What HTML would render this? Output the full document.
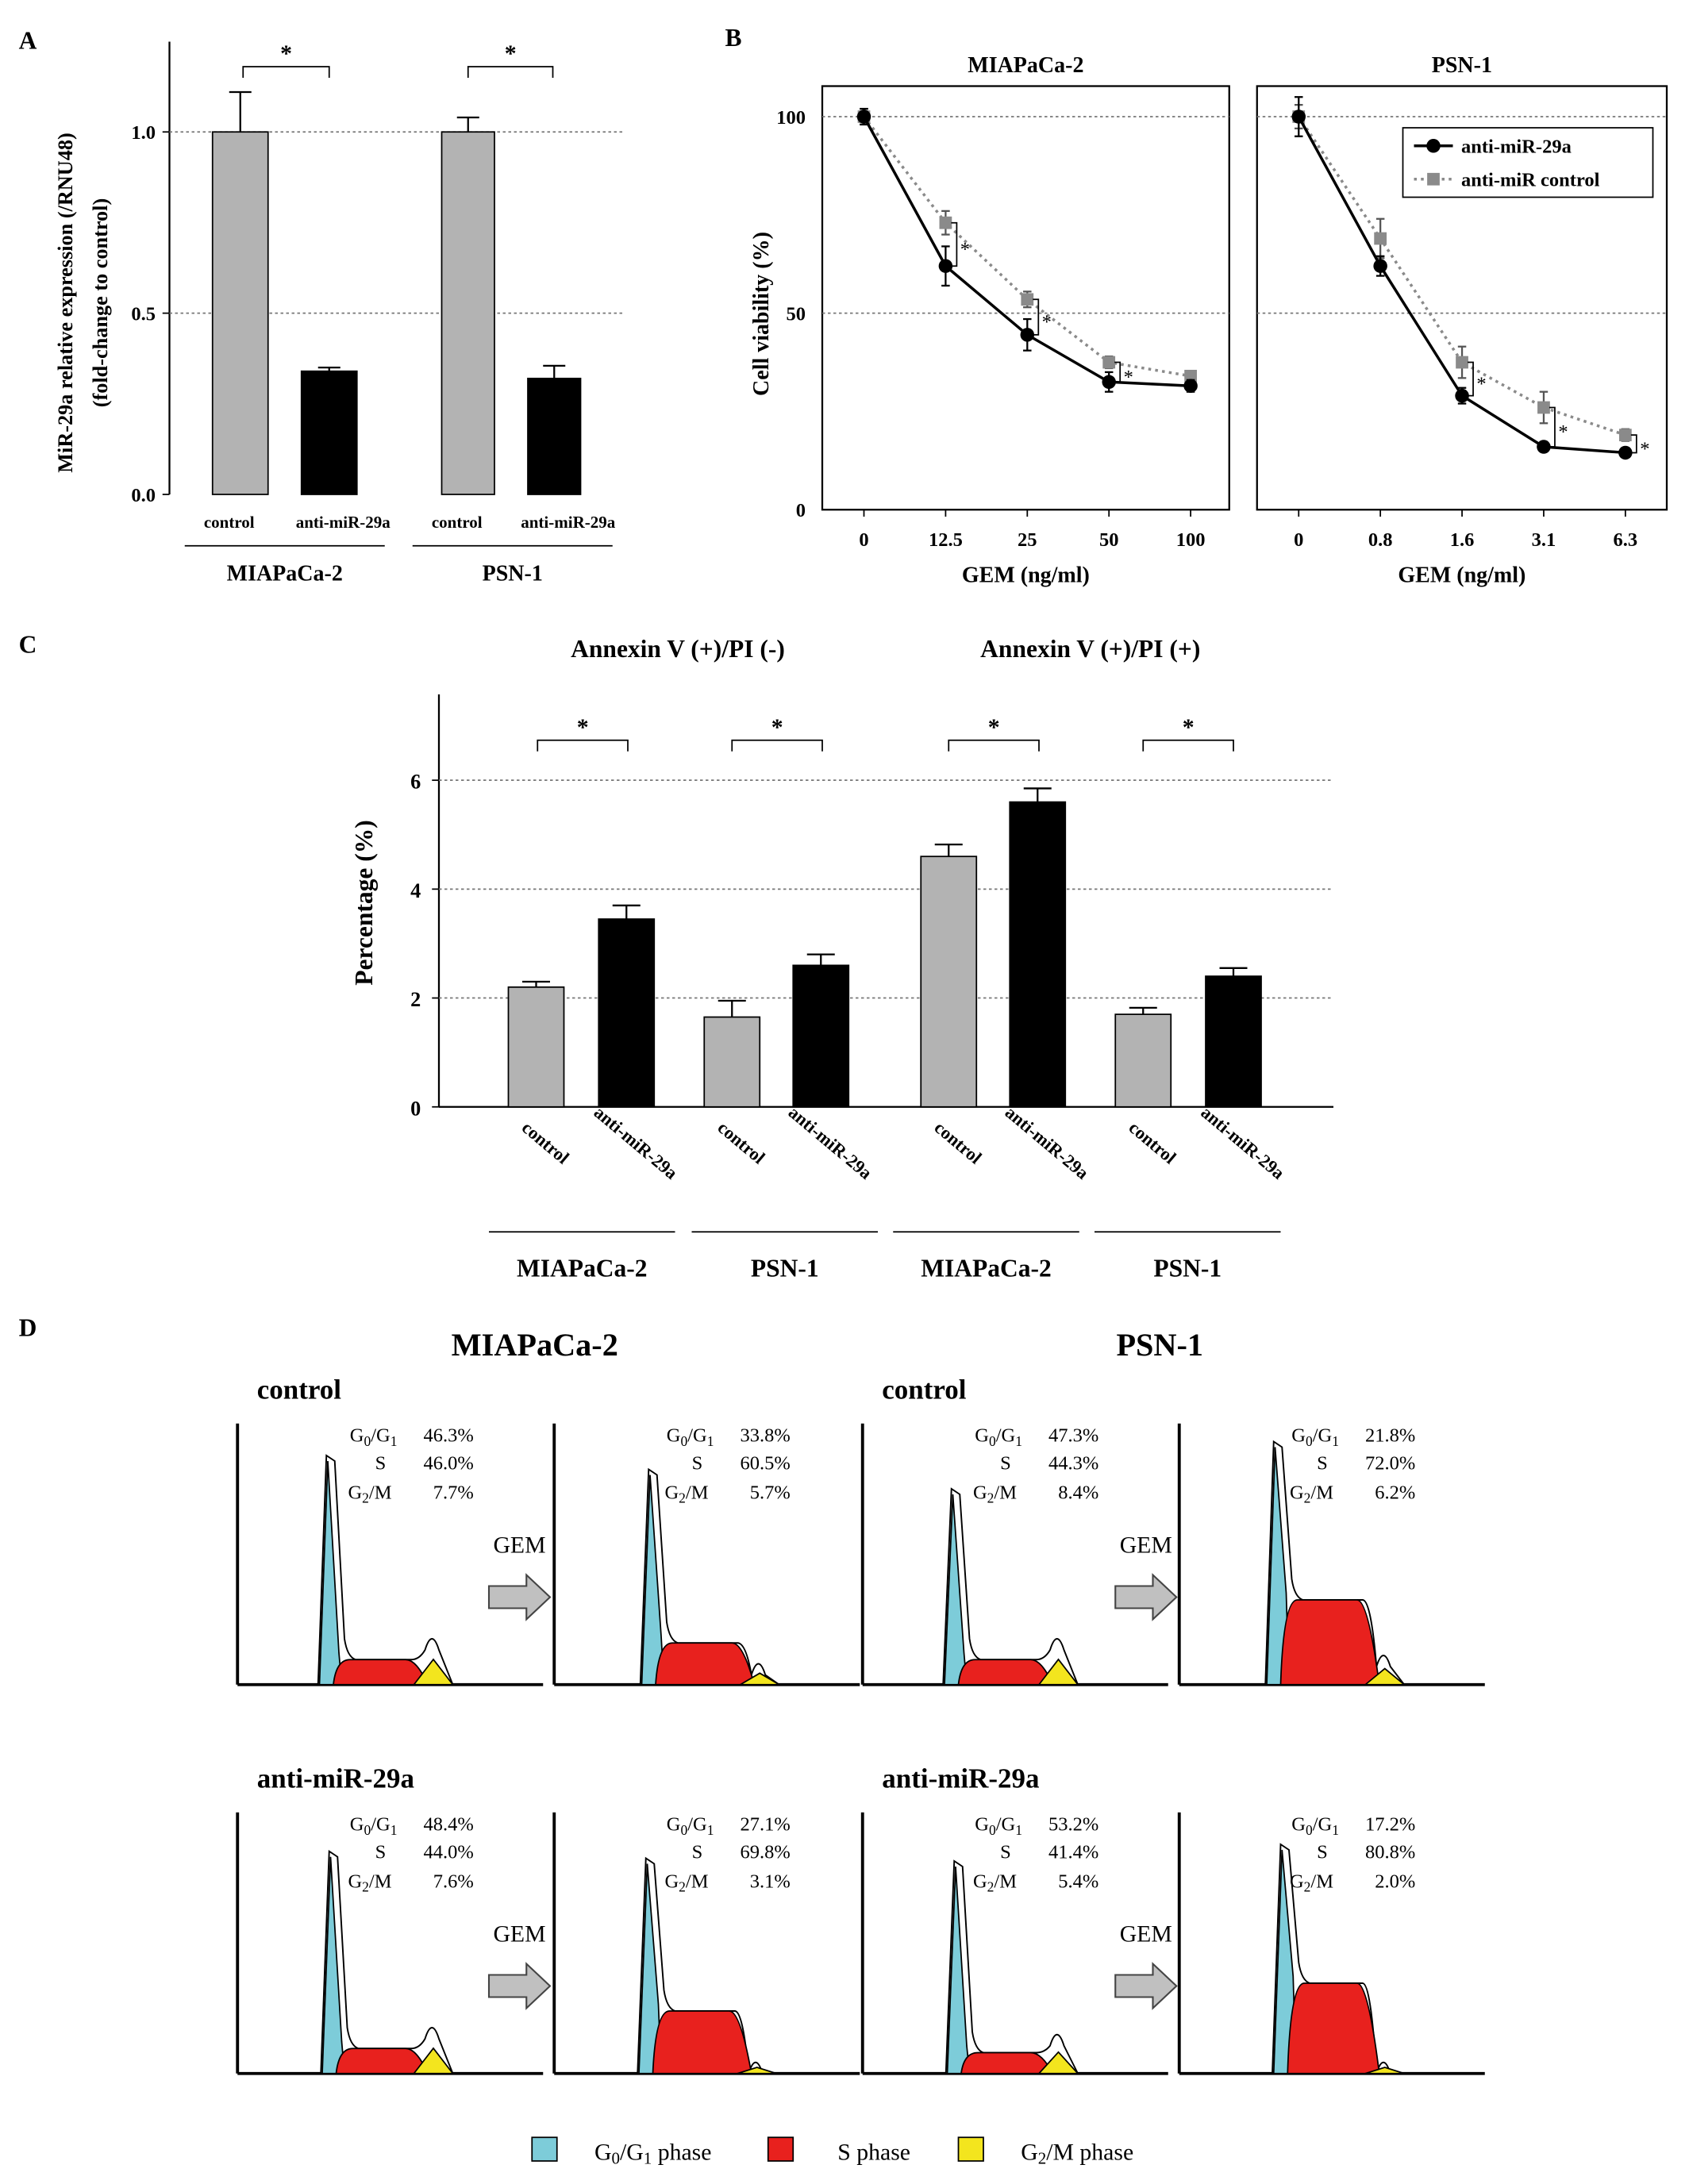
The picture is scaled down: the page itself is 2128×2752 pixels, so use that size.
<!DOCTYPE html>
<html><head><meta charset="utf-8">
<style>
html,body{margin:0;padding:0;background:#fff;}
svg{display:block;font-family:"Liberation Serif",serif;}
.b{font-weight:bold;}
</style></head>
<body>
<svg id="fig" width="2128" height="2752" viewBox="0 0 1216 1572.57" xmlns="http://www.w3.org/2000/svg">
<rect width="1216" height="1573" fill="#fff"/>
<g id="A"></g>
<g id="B"></g>
<g id="C"></g>
<g id="D"></g>
</svg>
<script>
// ---------- Panel A data ----------
const aCategories = ["control","anti-miR-29a","control","anti-miR-29a"];
const aValues = [1.0, 0.34, 1.0, 0.32];
const aErrors = [0.11, 0.01, 0.04, 0.035];
const aTicks = [0.0, 0.5, 1.0];
const aGroups = ["MIAPaCa-2","PSN-1"];
// ---------- Panel B data ----------
const bMiaX = ["0","12.5","25","50","100"];
const bMiaAnti = [100, 62, 44.5, 32.5, 31.5];
const bMiaAntiErr = [2, 5, 4, 2.5, 1.5];
const bMiaCtrl = [100, 73, 53.5, 37.5, 34];
const bMiaCtrlErr = [2, 3, 2, 1.5, 1];
const bPsnX = ["0","0.8","1.6","3.1","6.3"];
const bPsnAnti = [100, 62, 29, 16, 14.5];
const bPsnAntiErr = [5, 2.5, 2, 1, 1];
const bPsnCtrl = [100, 69, 37.5, 26, 19];
const bPsnCtrlErr = [3, 5, 4, 4, 1.5];
const bTicks = [0, 50, 100];
// ---------- Panel C data ----------
const cCategories = ["control","anti-miR-29a","control","anti-miR-29a","control","anti-miR-29a","control","anti-miR-29a"];
const cValues = [2.2, 3.45, 1.65, 2.6, 4.6, 5.6, 1.7, 2.4];
const cErrors = [0.1, 0.25, 0.3, 0.2, 0.22, 0.25, 0.12, 0.15];
const cTicks = [0, 2, 4, 6];
const cGroups = ["MIAPaCa-2","PSN-1","MIAPaCa-2","PSN-1"];
// ---------- Panel D data ----------
const dG1 = [46.3, 33.8, 47.3, 21.8, 48.4, 27.1, 53.2, 17.2];
const dS = [46.0, 60.5, 44.3, 72.0, 44.0, 69.8, 41.4, 80.8];
const dG2 = [7.7, 5.7, 8.4, 6.2, 7.6, 3.1, 5.4, 2.0];

const NS="http://www.w3.org/2000/svg";
function el(parent, tag, attrs, text){
  const e=document.createElementNS(NS,tag);
  for(const k in attrs) e.setAttribute(k,attrs[k]);
  if(text!==undefined) e.textContent=text;
  parent.appendChild(e); return e;
}
function txt(p,x,y,s,size,opts){
  opts=opts||{};
  const t=el(p,'text',{x:x,y:y,'font-size':size,'text-anchor':opts.anchor||'middle','font-weight':opts.bold===false?'normal':'bold',fill:'#000'},s);
  if(opts.rot) t.setAttribute('transform','rotate('+opts.rot+' '+x+' '+y+')');
  
  
  return t;
}
function line(p,x1,y1,x2,y2,w,extra){
  const l=el(p,'line',Object.assign({x1:x1,y1:y1,x2:x2,y2:y2,stroke:'#000','stroke-width':w||1},extra||{}));
  return l;
}
function bracket(p,x1,x2,y,star){
  const pth=el(p,'path',{d:`M${x1},${y+8}V${y}H${x2}V${y+8}`,fill:'none',stroke:'#000','stroke-width':1});
  
  
  txt(p,(x1+x2)/2,y-4,'*',17,{name:'significance-star'});
}

// ================= Panel A =================
(function(){
  const g=document.getElementById('A');
  txt(g,20,35,'A',18,{name:'panel-label-a'});
  const y0=356, ppu=261, yA=v=>y0-v*ppu;
  line(g,122,30,122,356,1.3);
  aTicks.forEach(t=>{
    line(g,117,yA(t),122,yA(t),1);
    const tl=txt(g,112,yA(t)+5,t.toFixed(1),14,{anchor:'end',name:'y-tick-label'});
    if(t>0){ const gl=line(g,122,yA(t),450,yA(t),1,{stroke:'#777','stroke-dasharray':'2,2'});  }
  });
  const bx=[153,217,318,380], bw=[40,40,38,38];
  aValues.forEach((v,i)=>{
    const r=el(g,'rect',{x:bx[i],y:yA(v),width:bw[i],height:y0-yA(v),fill:i%2?'#000':'#b3b3b3',stroke:'#000','stroke-width':1});
    
    
    const cx=bx[i]+bw[i]/2;
    line(g,cx,yA(v),cx,yA(v+aErrors[i]),1.3);
    line(g,cx-8,yA(v+aErrors[i]),cx+8,yA(v+aErrors[i]),1.3);
    txt(g,cx+(i%2?10:-8),380,aCategories[i],12,{name:'x-category-label'});
  });
  bracket(g,175,237,48); bracket(g,337,398,48);
  line(g,133,393,277,393,1); line(g,297,393,441,393,1);
  txt(g,205,418,aGroups[0],16,{name:'group-label'});
  txt(g,369,418,aGroups[1],16,{name:'group-label'});
  txt(g,52,218,'MiR-29a relative expression (/RNU48)',15,{rot:-90,name:'y-axis-title'});
  txt(g,77,218,'(fold-change to control)',15,{rot:-90,name:'y-axis-title'});
})();

// ================= Panel B =================
(function(){
  const g=document.getElementById('B');
  txt(g,528,33,'B',18,{name:'panel-label-b'});
  const yB=v=>367-v*2.83;
  const panels=[{x0:592,x1:885,title:'MIAPaCa-2',labels:bMiaX,anti:bMiaAnti,ae:bMiaAntiErr,ctrl:bMiaCtrl,ce:bMiaCtrlErr,px0:622},
                {x0:905,x1:1200,title:'PSN-1',labels:bPsnX,anti:bPsnAnti,ae:bPsnAntiErr,ctrl:bPsnCtrl,ce:bPsnCtrlErr,px0:935}];
  panels.forEach((P,pi)=>{
    const xs=i=>P.px0+i*58.8;
    const box=el(g,'rect',{x:P.x0,y:62,width:P.x1-P.x0,height:305,fill:'none',stroke:'#000','stroke-width':1.3});
     
    txt(g,(P.x0+P.x1)/2,52,P.title,16,{name:'subplot-title'});
    [50,100].forEach(t=>{const gl=line(g,P.x0,yB(t),P.x1,yB(t),1,{stroke:'#777','stroke-dasharray':'2,2'});});
    if(pi===0) bTicks.forEach(t=>txt(g,580,yB(t)+5,String(t),14,{anchor:'end',name:'y-tick-label'}));
    P.labels.forEach((l,i)=>{line(g,xs(i),367,xs(i),372,1);txt(g,xs(i),393,l,14,{name:'x-tick-label'});});
    txt(g,(P.x0+P.x1)/2,419,'GEM (ng/ml)',16,{name:'x-axis-title'});
    // control series
    const cp=P.ctrl.map((v,i)=>xs(i)+','+yB(v)).join(' ');
    const pl=el(g,'polyline',{points:cp,fill:'none',stroke:'#8a8a8a','stroke-width':2,'stroke-dasharray':'2,3'});
     
    P.ctrl.forEach((v,i)=>{
      line(g,xs(i),yB(v-P.ce[i]),xs(i),yB(v+P.ce[i]),1.3,{stroke:'#555'});
      line(g,xs(i)-3,yB(v+P.ce[i]),xs(i)+3,yB(v+P.ce[i]),1.3,{stroke:'#555'});
      line(g,xs(i)-3,yB(v-P.ce[i]),xs(i)+3,yB(v-P.ce[i]),1.3,{stroke:'#555'});
      const m=el(g,'rect',{x:xs(i)-4.5,y:yB(v)-4.5,width:9,height:9,fill:'#8a8a8a'});
       
    });
    const ap=P.anti.map((v,i)=>xs(i)+','+yB(v)).join(' ');
    const al=el(g,'polyline',{points:ap,fill:'none',stroke:'#000','stroke-width':2});
     
    P.anti.forEach((v,i)=>{
      line(g,xs(i),yB(v-P.ae[i]),xs(i),yB(v+P.ae[i]),1.3);
      line(g,xs(i)-3,yB(v+P.ae[i]),xs(i)+3,yB(v+P.ae[i]),1.3);
      line(g,xs(i)-3,yB(v-P.ae[i]),xs(i)+3,yB(v-P.ae[i]),1.3);
      const m=el(g,'circle',{cx:xs(i),cy:yB(v),r:5,fill:'#000'});
       
    });
    // significance brackets
    const sig = pi===0?[1,2,3]:[2,3,4];
    sig.forEach(i=>{
      const xb=xs(i)+8, y1=yB(P.ctrl[i]), y2=yB(P.anti[i]);
      const b=el(g,'path',{d:`M${xb-4},${y1}H${xb}V${y2}H${xb-4}`,fill:'none',stroke:'#000','stroke-width':1});
       
      txt(g,xb+6,(y1+y2)/2+8,'*',14,{name:'significance-star',bold:false});
    });
  });
  txt(g,553,226,'Cell viability (%)',16,{rot:-90,name:'y-axis-title'});
  // legend
  const lg=el(g,'g',{});
   
  el(lg,'rect',{x:1010,y:92,width:180,height:50,fill:'#fff',stroke:'#000','stroke-width':1});
  line(lg,1018,105,1046,105,2); el(lg,'circle',{cx:1032,cy:105,r:5,fill:'#000'});
  txt(lg,1052,110,'anti-miR-29a',14,{anchor:'start',name:'legend-entry'});
  line(lg,1018,129,1046,129,2,{stroke:'#8a8a8a','stroke-dasharray':'2,3'}); el(lg,'rect',{x:1027.5,y:124.5,width:9,height:9,fill:'#8a8a8a'});
  txt(lg,1052,134,'anti-miR control',14,{anchor:'start',name:'legend-entry'});
})();

// ================= Panel C =================
(function(){
  const g=document.getElementById('C');
  txt(g,20,470,'C',18,{name:'panel-label-c'});
  const y0=797, yC=v=>y0-v*39.2;
  line(g,316,500,316,797,1.3); line(g,316,797,960,797,1.3);
  cTicks.forEach(t=>{
    line(g,311,yC(t),316,yC(t),1);
    txt(g,303,yC(t)+6,String(t),15,{anchor:'end',name:'y-tick-label'});
    if(t>0){const gl=line(g,316,yC(t),960,yC(t),1,{stroke:'#777','stroke-dasharray':'2,2'});}
  });
  const bx=[366,431,507,571,663,727,803,868];
  cValues.forEach((v,i)=>{
    const r=el(g,'rect',{x:bx[i],y:yC(v),width:40,height:y0-yC(v),fill:i%2?'#000':'#b3b3b3',stroke:'#000','stroke-width':1});
    
    
    const cx=bx[i]+20, top=yC(v+cErrors[i]);
    line(g,cx,yC(v),cx,top,1.3); line(g,cx-10,top,cx+10,top,1.3);
    txt(g,cx+4,826,cCategories[i],13,{rot:40,name:'x-category-label'});
  });
  [[387,452],[527,592],[683,748],[823,888]].forEach(b=>bracket(g,b[0],b[1],533));
  [[352,486],[498,632],[643,777],[788,922]].forEach((r,i)=>{
    line(g,r[0],887,r[1],887,1);
    txt(g,(r[0]+r[1])/2,919,cGroups[i],18,{name:'group-label'});
  });
  txt(g,488,473,'Annexin V (+)/PI (-)',18,{name:'subplot-title'});
  txt(g,785,473,'Annexin V (+)/PI (+)',18,{name:'subplot-title'});
  txt(g,268,650,'Percentage (%)',18,{rot:-90,name:'y-axis-title'});
})();

// ================= Panel D =================
(function(){
  const g=document.getElementById('D');
  txt(g,20,962,'D',18,{name:'panel-label-d'});
  txt(g,385,976,'MIAPaCa-2',23,{name:'cell-line-title'});
  txt(g,835,976,'PSN-1',23,{name:'cell-line-title'});
  txt(g,185,1007,'control',20,{anchor:'start',name:'row-title'});
  txt(g,635,1007,'control',20,{anchor:'start',name:'row-title'});
  txt(g,185,1287,'anti-miR-29a',20,{anchor:'start',name:'row-title'});
  txt(g,635,1287,'anti-miR-29a',20,{anchor:'start',name:'row-title'});
  const ax=[171,399,621,849];
  // shape params (visual shape, not data): peak offset, peak top, S top, S end, G2 top
  const shapes=[
    [67,1048,1195,133,1180],[71,1058,1183,140,1198],[67,1072,1195,133,1180],[71,1038,1152,140,1192],
    [69,1333,1475,133,1460],[69,1338,1448,138,1485],[69,1340,1478,133,1465],[76,1328,1428,140,1485]];
  shapes.forEach((s,k)=>{
    const col=k%4, row=k>>2, x0=ax[col], base=row?1493:1213, top=row?1305:1025;
    const off=row?280:0;
    const h=el(g,'g',{});
    
    
    line(h,x0,top,x0,base,2.2); line(h,x0,base,x0+220,base,2.2);
    const px=x0+s[0], pt=s[1], st=s[2], se=x0+s[3], gt=s[4]+0;
    // outline (white)
    el(h,'path',{d:`M${px-9},${base}L${px-3},${pt}L${px+3},${pt+4}L${px+10},${st-15}Q${px+12},${st-2} ${px+18},${st}L${se-8},${st}Q${se-2},${st} ${se+2},${gt+8}Q${se+7},${gt-8} ${se+12},${gt+8}L${se+22},${base}Z`,fill:'#fff',stroke:'#000','stroke-width':1.1});
    el(h,'path',{d:`M${px-8},${base}L${px-2},${pt+4}L${px+6},${st-5}L${px+8},${base}Z`,fill:'#7dccd9',stroke:'#000','stroke-width':1});
    el(h,'path',{d:`M${px+2},${base}Q${px+4},${st} ${px+14},${st}L${se-12},${st}Q${se-4},${st} ${se+4},${base}Z`,fill:'#e8211e',stroke:'#000','stroke-width':1});
    el(h,'path',{d:`M${se-6},${base}L${se+8},${base-(base-gt)*0.55}L${se+22},${base}Z`,fill:'#f3e51e',stroke:'#000','stroke-width':1});
    // stats text
    const lx=x0+115, vx=x0+170, ty=(row?1314:1034);
    const t1=el(h,'text',{x:lx,y:ty+4,'font-size':14,'text-anchor':'end'});
     
    t1.innerHTML='G<tspan font-size="10" dy="3">0</tspan><tspan dy="-3">/G</tspan><tspan font-size="10" dy="3">1</tspan>';
    txt(h,lx-12,ty+24,'S',14,{anchor:'middle',bold:false,name:'s-label'});
    const t3=el(h,'text',{x:lx-4,y:ty+45,'font-size':14,'text-anchor':'end'});
     
    t3.innerHTML='G<tspan font-size="10" dy="3">2</tspan><tspan dy="-3">/M</tspan>';
    txt(h,vx,ty+4,dG1[k].toFixed(1)+'%',14,{anchor:'end',bold:false,name:'g0-g1-value'});
    txt(h,vx,ty+24,dS[k].toFixed(1)+'%',14,{anchor:'end',bold:false,name:'s-value'});
    txt(h,vx,ty+45,dG2[k].toFixed(1)+'%',14,{anchor:'end',bold:false,name:'g2-m-value'});
  });
  // arrows
  [[352,1150],[803,1150],[352,1430],[803,1430]].forEach(a=>{
    const x=a[0], y=a[1];
    txt(g,x+22,y-32,'GEM',17,{bold:false,name:'gem-label'});
    const ar=el(g,'path',{d:`M${x},${y-8}H${x+27}V${y-16}L${x+44},${y}L${x+27},${y+16}V${y+8}H${x}Z`,fill:'#c0c0c0',stroke:'#444','stroke-width':1.2});
     
  });
  // legend
  const lg=el(g,'g',{});
   
  const items=[[383,'#7dccd9','G','0','/G','1',' phase'],[553,'#e8211e','S phase'],[690,'#f3e51e','G','2','/M phase']];
  items.forEach(it=>{
    el(lg,'rect',{x:it[0],y:1539,width:18,height:17,fill:it[1],stroke:'#000','stroke-width':1});
  });
  const l1=el(lg,'text',{x:428,y:1555,'font-size':17});
   
  l1.innerHTML='G<tspan font-size="12" dy="3">0</tspan><tspan dy="-3">/G</tspan><tspan font-size="12" dy="3">1</tspan><tspan dy="-3"> phase</tspan>';
  const l2=el(lg,'text',{x:603,y:1555,'font-size':17},'S phase');
   
  const l3=el(lg,'text',{x:735,y:1555,'font-size':17});
   
  l3.innerHTML='G<tspan font-size="12" dy="3">2</tspan><tspan dy="-3">/M phase</tspan>';
})();
</script>
</body></html>
